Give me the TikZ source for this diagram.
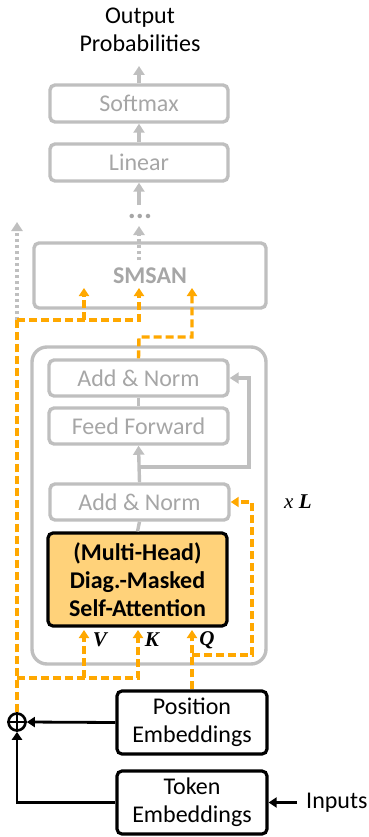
\documentclass[tikz,border=0pt]{standalone}
\usepackage{fontspec}
\setmainfont{Carlito}
\newfontfamily\tnr{Liberation Serif}
\usetikzlibrary{arrows.meta}
\definecolor{gr}{RGB}{191,191,191}
\definecolor{grt}{RGB}{166,166,166}
\definecolor{org}{RGB}{255,168,0}
\definecolor{mhafill}{RGB}{255,210,122}
\begin{document}
\begin{tikzpicture}[x=1pt,y=-1pt,
  txt/.style={font=\fontsize{24}{28}\selectfont},
  graybox/.style={draw=gr, line width=3.4pt, rounded corners=5pt, text=grt, txt, inner sep=0pt, align=center},
  blackbox/.style={draw=black, line width=3.2pt, rounded corners=5pt, txt, inner sep=0pt, align=center},
  garrow/.style={draw=gr, line width=3.4pt, -{Triangle[width=11pt,length=9pt]}},
  gline/.style={draw=gr, line width=3.4pt},
  gdot/.style={draw=gr, line width=3.4pt, dash pattern=on 3pt off 3pt},
  oline/.style={draw=org, line width=3.4pt, dash pattern=on 8pt off 4pt},
  oarrow/.style={oline, -{Triangle[width=10pt,length=8pt]}},
  barrow/.style={draw=black, line width=2.8pt, -{Triangle[width=10pt,length=8pt]}},
  lab/.style={font=\tnr\bfseries\itshape\fontsize{21}{24}\selectfont}
]
\useasboundingbox (0,0) rectangle (369,837);

% top output
\node[txt, align=center] (out) at (140,30) {Output\\Probabilities};
\coordinate (cout) at (139,66);

% gray boxes
\node[graybox, minimum width=178pt, minimum height=37pt] (softmax) at (139,103.5) {Softmax};
\node[graybox, minimum width=178pt, minimum height=37pt] (linear) at (139,162.5) {Linear};
\node[text=grt, font=\bfseries\fontsize{30}{30}\selectfont, inner sep=0pt] (dots) at (140,216) {...};
\coordinate (cdots) at (139,205);
\node[graybox, minimum width=232pt, minimum height=65pt, font=\bfseries\fontsize{24}{28}\selectfont] (smsan) at (150,275.5) {SMSAN};

% outer encoder block
\draw[gr, line width=3.4pt, rounded corners=15pt] (32,347) rectangle (266,664);
\node[graybox, minimum width=179pt, minimum height=36pt] (an1) at (138.5,378) {Add \& Norm};
\node[graybox, minimum width=179pt, minimum height=36pt] (ff) at (138.5,426) {Feed Forward};
\node[graybox, minimum width=179pt, minimum height=36pt] (an2) at (139.5,502) {Add \& Norm};
\node[blackbox, fill=mhafill, minimum width=179pt, minimum height=93pt, font=\bfseries\fontsize{24}{28}\selectfont] (mha) at (137.5,579.5) {(Multi-Head)\\Diag.-Masked\\Self-Attention};

\node[font=\tnr\fontsize{21}{24}\selectfont, anchor=west, inner sep=0pt] (xl) at (284,502) {\textit{x} \textbf{\textit{L}}};

% black boxes
\node[blackbox, minimum width=150pt, minimum height=63pt] (pos) at (192,722.5) {Position\\Embeddings};
\node[blackbox, minimum width=150pt, minimum height=63pt] (tok) at (192,802.5) {Token\\Embeddings};
\node[txt, anchor=west, inner sep=0pt] (inputs) at (306,803) {Inputs};
\coordinate (cin) at (297,802.5);

% plus
\node[circle, draw=black, line width=2.6pt, minimum size=17pt, inner sep=0pt] (plus) at (17,722) {};
\draw[black, line width=2.6pt] (plus.north) -- (plus.south) (plus.west) -- (plus.east);

% gray connectors
\draw[garrow] (softmax.north) -- (cout);
\draw[garrow] (linear.north) -- (softmax.south);
\draw[garrow] (cdots) -- (linear.south);
\coordinate (sin) at (139,260);
\coordinate (sout) at (139,226);
\draw[gdot, -{Triangle[width=11pt,length=9pt]}] (sin) -- (sout);
\coordinate (lbot) at (17,320);
\coordinate (ltop) at (17,222);
\draw[gdot, -{Triangle[width=11pt,length=9pt]}] (lbot) -- (ltop);
\draw[gline] (an1.south) -- (ff.north);
\draw[garrow] (an2.north) -- (ff.south);
\coordinate (res1) at (139,467);
\coordinate (res2) at (249,467);
\coordinate (res3) at (249,378);
\draw[garrow] (res1) -- (res2) -- (res3) -- (an1.east);
\draw[gline] (mha.north) -- (an2.south);

% orange connectors
\coordinate (sv) at (84,288);
\coordinate (sk) at (139,288);
\coordinate (sq) at (192,288);
\coordinate (sj1) at (84,320);
\coordinate (sj2) at (139,320);
\coordinate (tj1) at (139,337);
\coordinate (tj2) at (192,337);
\draw[oline] (plus.north) -- (lbot);
\draw[oarrow] (lbot) -- (sj2) -- (sk);
\draw[oarrow] (sj1) -- (sv);
\draw[oarrow] (an1.north) -- (tj1) -- (tj2) -- (sq);

\coordinate (mv) at (84,630);
\coordinate (mk) at (138,630);
\coordinate (mq) at (192,630);
\coordinate (kj0) at (17,678);
\coordinate (kj1) at (84,678);
\coordinate (kj2) at (138,678);
\draw[oarrow] (kj0) -- (kj2) -- (mk);
\draw[oarrow] (kj1) -- (mv);
\draw[oarrow] (pos.north) -- (mq);
\coordinate (qj1) at (192,655);
\coordinate (qj2) at (252,655);
\coordinate (qj3) at (252,502);
\draw[oarrow] (qj1) -- (qj2) -- (qj3) -- (an2.east);

\node[lab] (lv) at (100,640) {V};
\node[lab] (lk) at (152,640) {K};
\node[lab] (lq) at (207,640) {Q};

% black connectors
\draw[barrow] (pos.west) -- (plus.east);
\draw[barrow] (tok.west) -| (plus.south);
\draw[barrow] (cin) -- (tok.east);
\end{tikzpicture}
\end{document}
